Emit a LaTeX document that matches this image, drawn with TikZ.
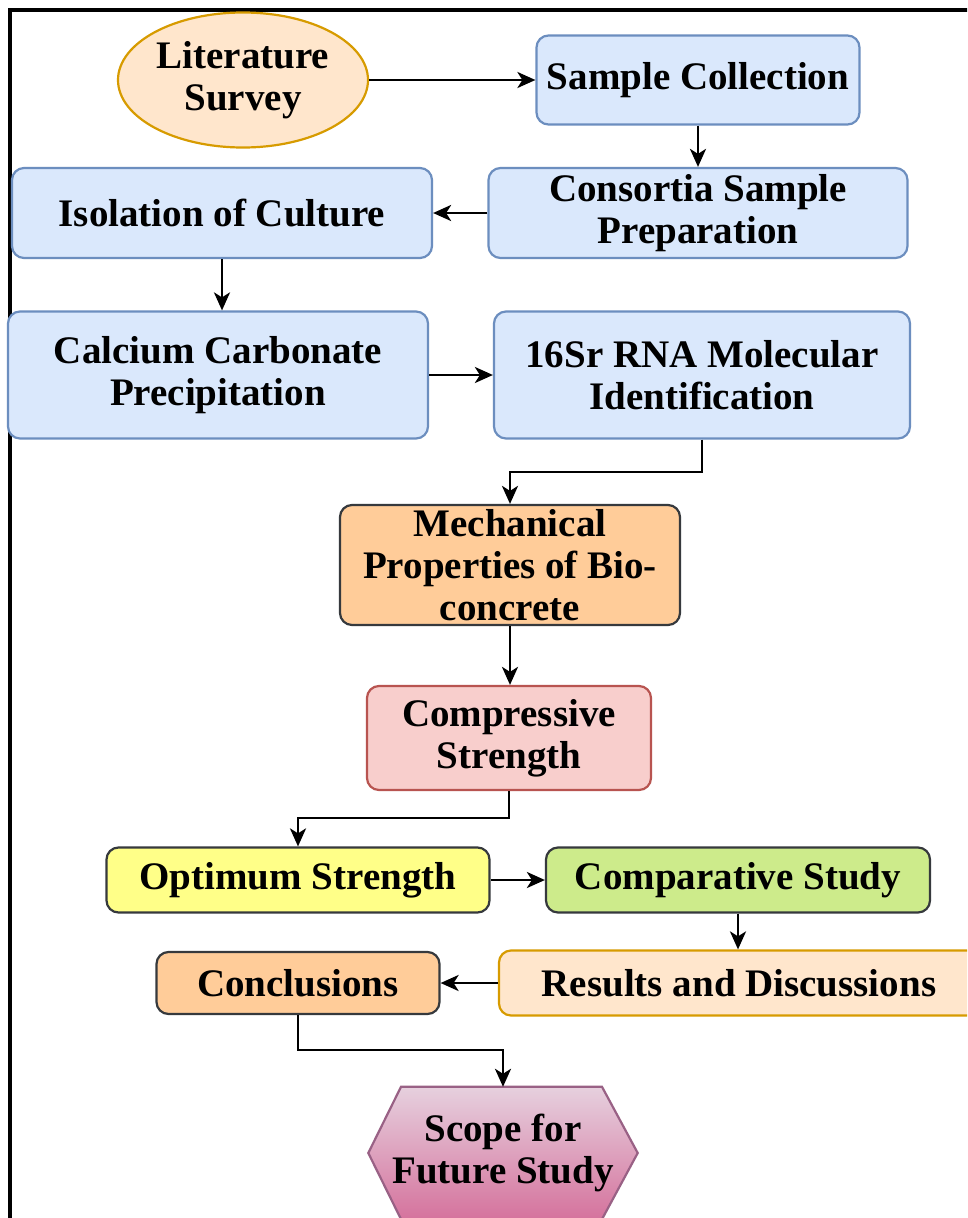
\documentclass[tikz,border=0pt]{standalone}
\usepackage{fontspec}
\setmainfont{Liberation Serif}
\usetikzlibrary{arrows.meta,shapes.geometric}
\definecolor{bluefill}{HTML}{DAE8FC}
\definecolor{bluedraw}{HTML}{6C8EBF}
\definecolor{orfill}{HTML}{FFE6CC}
\definecolor{ordraw}{HTML}{D79B00}
\definecolor{peachfill}{HTML}{FFCC99}
\definecolor{darkdraw}{HTML}{36393D}
\definecolor{redfill}{HTML}{F8CECC}
\definecolor{reddraw}{HTML}{B85450}
\definecolor{yelfill}{HTML}{FFFF88}
\definecolor{grnfill}{HTML}{CDEB8B}
\definecolor{hextop}{HTML}{E6D0DE}
\definecolor{hexbot}{HTML}{D5739D}
\definecolor{hexdraw}{HTML}{996185}
\tikzset{
  base/.style={rounded corners=12pt, line width=2.2pt, align=center, inner sep=0pt,
    font=\fontsize{39}{42}\selectfont\bfseries},
  bluebox/.style={base, fill=bluefill, draw=bluedraw},
  orbox/.style={base, fill=orfill, draw=ordraw},
  peachbox/.style={base, fill=peachfill, draw=darkdraw},
  redbox/.style={base, fill=redfill, draw=reddraw},
  yelbox/.style={base, fill=yelfill, draw=darkdraw},
  grnbox/.style={base, fill=grnfill, draw=darkdraw},
  conn/.style={line width=2.8pt, -{Stealth[length=18pt,width=16pt,inset=5pt]}},
}
\begin{document}
\begin{tikzpicture}[x=1pt,y=-1pt]
\useasboundingbox (0,0) rectangle (967,1218);
\clip (0,0) rectangle (967,1218);
\fill[white] (0,0) rectangle (967,1218);
\draw[line width=3.5pt] (10,1240) -- (10,10) -- (990,10);

\node[ellipse, fill=orfill, draw=ordraw, line width=2.2pt, minimum width=250pt, minimum height=135pt, inner sep=0pt, align=center, font=\fontsize{39}{42}\selectfont\bfseries] (lit) at (243,80) {Literature\\Survey};
\node[bluebox, minimum width=323pt, minimum height=89pt] (sc) at (698,80) {Sample Collection};
\node[bluebox, minimum width=419pt, minimum height=90pt] (csp) at (698,213) {Consortia Sample\\Preparation};
\node[bluebox, minimum width=420pt, minimum height=90pt] (iso) at (222,213) {Isolation of Culture};
\node[bluebox, minimum width=420pt, minimum height=127pt] (cal) at (218,375) {Calcium Carbonate\\Precipitation};
\node[bluebox, minimum width=416pt, minimum height=127pt] (rna) at (702,375) {16Sr RNA Molecular\\Identification};
\node[peachbox, minimum width=340pt, minimum height=120pt] (mech) at (510,565) {Mechanical\\Properties of Bio-\\concrete};
\node[redbox, minimum width=284pt, minimum height=104pt] (comp) at (509,738) {Compressive\\Strength};
\node[yelbox, minimum width=383pt, minimum height=65pt] (opt) at (298,880) {Optimum Strength};
\node[grnbox, minimum width=384pt, minimum height=65pt] (cmp) at (738,880) {Comparative Study};
\node[orbox, minimum width=480pt, minimum height=65pt] (res) at (739,983) {Results and Discussions};
\node[peachbox, minimum width=283pt, minimum height=62pt] (con) at (298,983) {Conclusions};

\node[minimum width=269pt, minimum height=132pt, inner sep=0pt] (hex) at (503,1153) {};
\shade[top color=hextop, bottom color=hexbot, draw=hexdraw, line width=2.2pt]
  ([xshift=-102pt]hex.north) -- ([xshift=99pt]hex.north) -- (hex.east) --
  ([xshift=99pt]hex.south) -- ([xshift=-102pt]hex.south) -- (hex.west) -- cycle;
\node[align=center, font=\fontsize{39}{42}\selectfont\bfseries] (hext) at (hex.center) {Scope for\\Future Study};

\draw[conn] (lit.east) -- (sc.west);
\draw[conn] (sc.south) -- (csp.north);
\draw[conn] (csp.west) -- (iso.east);
\draw[conn] (iso.south) -- (iso.south |- cal.north);
\draw[conn] (cal.east) -- (rna.west);
\draw[conn] (rna.south) |- (510,472) -- (mech.north);
\draw[conn] (mech.south) -- (mech.south |- comp.north);
\draw[conn] (comp.south) |- (298,818) -- (opt.north);
\draw[conn] (opt.east) -- (cmp.west);
\draw[conn] (cmp.south) -- (cmp.south |- res.north);
\draw[conn] (res.west) -- (con.east);
\draw[conn] (con.south) |- (503,1050) -- (hex.north);
\end{tikzpicture}
\end{document}
